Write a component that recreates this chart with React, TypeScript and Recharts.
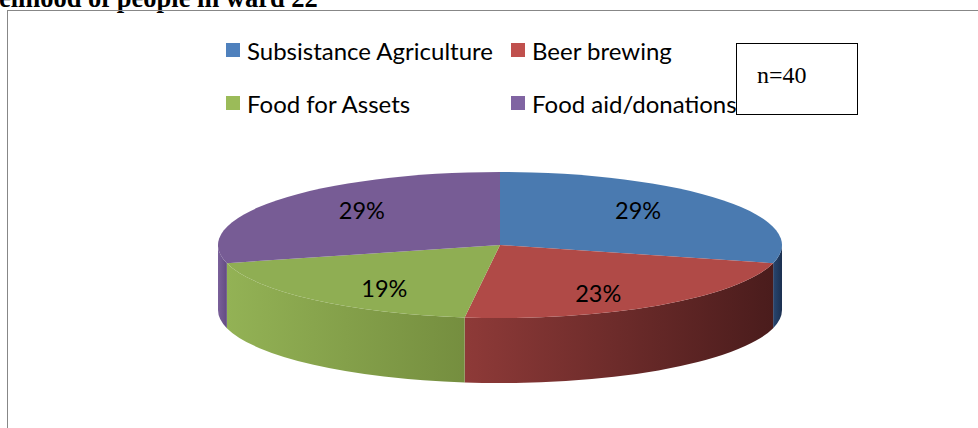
import React from 'react';
import { PieChart, Pie, Cell, Legend } from 'recharts';

const categories = ['Subsistance Agriculture', 'Beer brewing', 'Food for Assets', 'Food aid/donations'];
const shares = [29, 23, 19, 29];
const sampleSize = 40;

const TOP_COLORS = ['#4a7ab0', '#b04a47', '#8fae53', '#775c95'];
const LEGEND_COLORS = ['#4f81bd', '#c0504d', '#9bbb59', '#8064a2'];
const SIDE_LIGHT = ['#284670', '#8e3a38', '#93b255', '#7a609a'];
const SIDE_DARK = ['#1c3050', '#4a1c1c', '#758e3f', '#634c82'];

const data = categories.map((name, i) => ({ name, value: shares[i] }));

// flatten the round pie into a tilted disc
const TILT = 0.259;
const DEPTH = 65;

function Slice3D(props: any) {
  const { cx, cy, outerRadius, startAngle, endAngle, fill, index } = props;
  const rx = outerRadius;
  const ry = outerRadius * TILT;
  const pt = (a: number, dy = 0) => {
    const r = (a * Math.PI) / 180;
    return `${cx + rx * Math.cos(r)},${cy - ry * Math.sin(r) + dy}`;
  };
  const large = Math.abs(startAngle - endAngle) > 180 ? 1 : 0;
  const top = `M${cx},${cy} L${pt(startAngle)} A${rx},${ry} 0 ${large} 1 ${pt(endAngle)} Z`;
  // only the front half of the rim is visible
  const a1 = Math.min(startAngle, 0);
  const a2 = Math.max(endAngle, -180);
  const gid = `side-grad-${index}`;
  return (
    <g>
      <defs>
        <linearGradient id={gid} x1="0" y1="0" x2="1" y2="0">
          <stop offset="0%" stopColor={SIDE_LIGHT[index]} />
          <stop offset="100%" stopColor={SIDE_DARK[index]} />
        </linearGradient>
      </defs>
      {a1 > a2 && (
        <path
          d={`M${pt(a1)} A${rx},${ry} 0 0 1 ${pt(a2)} L${pt(a2, DEPTH)} A${rx},${ry} 0 0 0 ${pt(a1, DEPTH)} Z`}
          fill={`url(#${gid})`}
          stroke="none"
        />
      )}
      <path d={top} fill={fill} stroke="none" />
    </g>
  );
}

const renderLabel = (props: any) => {
  const { cx, cy, midAngle, outerRadius, value } = props;
  const r = (midAngle * Math.PI) / 180;
  const x = cx + outerRadius * 0.62 * Math.cos(r);
  const y = cy - outerRadius * 0.62 * 0.33 * Math.sin(r);
  return (
    <text x={x} y={y} textAnchor="middle" dominantBaseline="central" fill="#000" fontSize={23.5} fontFamily="Lato">
      {`${value}%`}
    </text>
  );
};

const renderLegend = (props: any) => {
  const payload: any[] = props.payload || [];
  // keep the data order, not the alphabetical one
  const items = categories.map((name) => payload.find((p) => p.value === name)).filter(Boolean);
  return (
    <div style={{ display: 'grid', gridTemplateColumns: '285px 320px', rowGap: 21, fontFamily: 'Lato', fontSize: 24 }}>
      {items.map((entry: any) => (
        <div key={entry.value} style={{ display: 'flex', alignItems: 'center', height: 32, whiteSpace: 'nowrap' }}>
          <span
            style={{
              width: 14, height: 14, background: LEGEND_COLORS[categories.indexOf(entry.value)],
              marginRight: 7, flex: 'none',
            }}
          />
          <span style={{ color: '#000' }}>{entry.value}</span>
        </div>
      ))}
    </div>
  );
};

export default function App() {
  return (
    <div style={{ position: 'absolute', left: 0, top: 0, width: 978, height: 428, overflow: 'hidden', background: '#fff' }}>
      <div
        style={{
          position: 'absolute', left: -1, top: -17, fontFamily: '"Liberation Serif"', fontWeight: 'bold',
          fontSize: 26.5, lineHeight: '30px', whiteSpace: 'nowrap', color: '#000',
        }}
      >
        elihood of people in ward 22
      </div>
      <div style={{ position: 'absolute', left: 7, top: 10, width: 1000, height: 500, border: '1.5px solid #878787' }} />
      <div style={{ position: 'absolute', left: 0, top: 0 }}>
        <PieChart width={978} height={428} margin={{ top: 0, right: 0, bottom: 0, left: 0 }}>
          <Legend content={renderLegend} wrapperStyle={{ left: 226, top: 34, width: 620 }} />
          <Pie
            data={data}
            dataKey="value"
            nameKey="name"
            cx={500}
            cy={245}
            outerRadius={282}
            startAngle={90}
            endAngle={-270}
            shape={Slice3D}
            label={renderLabel}
            labelLine={false}
            isAnimationActive={false}
          >
            {data.map((d, i) => (
              <Cell key={d.name} fill={TOP_COLORS[i]} />
            ))}
          </Pie>
        </PieChart>
      </div>
      <div
        style={{
          position: 'absolute', left: 736, top: 43, width: 120, height: 70, border: '1.5px solid #000',
          background: '#fff', fontFamily: '"Liberation Serif"', fontSize: 24, boxSizing: 'content-box',
        }}
      >
        <span style={{ position: 'absolute', left: 20, top: 19, lineHeight: '24px' }}>{`n=${sampleSize}`}</span>
      </div>
    </div>
  );
}
